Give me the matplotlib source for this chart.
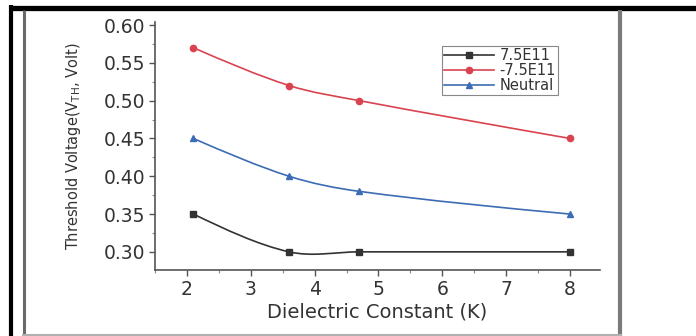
import matplotlib
matplotlib.use('Agg')
import matplotlib.pyplot as plt
import matplotlib.patches as patches
from matplotlib.lines import Line2D
from matplotlib.path import Path
from matplotlib.ticker import MultipleLocator, FormatStrFormatter

plt.rcParams['font.family'] = ['DejaVu Sans']

# Data: threshold voltage vs dielectric constant
k_values = [2.1, 3.6, 4.7, 8.0]
vth_pos = [0.35, 0.30, 0.30, 0.30]
vth_neg = [0.57, 0.52, 0.50, 0.45]
vth_neutral = [0.45, 0.40, 0.38, 0.35]
series_labels = ['7.5E11', '-7.5E11', 'Neutral']


def smooth_path(xs, ys):
	# Hermite curve through the points (as cubic Bezier segments)
	n = len(xs)
	slopes = []
	for i in range(n):
		if 0 < i < n - 1:
			slopes.append((ys[i + 1] - ys[i - 1]) / (xs[i + 1] - xs[i - 1]))
		else:
			slopes.append(None)
	sec0 = (ys[1] - ys[0]) / (xs[1] - xs[0])
	secn = (ys[-1] - ys[-2]) / (xs[-1] - xs[-2])
	slopes[0] = 1.5 * sec0 - 0.5 * slopes[1]
	slopes[-1] = 1.5 * secn - 0.5 * slopes[-2]
	verts = [(xs[0], ys[0])]
	codes = [Path.MOVETO]
	for i in range(n - 1):
		dx = (xs[i + 1] - xs[i]) / 3
		verts += [(xs[i] + dx, ys[i] + slopes[i] * dx),
				  (xs[i + 1] - dx, ys[i + 1] - slopes[i + 1] * dx),
				  (xs[i + 1], ys[i + 1])]
		codes += [Path.CURVE4] * 3
	return Path(verts, codes)


W, H = 696, 336
fig = plt.figure(figsize=(W / 100, H / 100), dpi=100)
fig.patch.set_facecolor('white')

ax = fig.add_axes([155 / W, 1 - 270 / H, 445 / W, 248 / H])

styles = [
	(vth_pos, '#333333', 's'),
	(vth_neg, '#d9434f', 'o'),
	(vth_neutral, '#3b6cb4', '^'),
]
handles = []
for (vals, col, mk), lab in zip(styles, series_labels):
	curve = patches.PathPatch(smooth_path(k_values, vals), facecolor='none',
							  edgecolor=col, linewidth=1.2, transform=ax.transData)
	ax.add_patch(curve)
	ax.plot(k_values, vals, linestyle='none', marker=mk, markersize=4.5, color=col)
	handles.append(Line2D([], [], color=col, marker=mk, markersize=4.5, linewidth=1.2))

ax.set_xlim(1.5, 8.47)
ax.set_ylim(0.276, 0.604)
ax.xaxis.set_major_locator(MultipleLocator(1))
ax.xaxis.set_minor_locator(MultipleLocator(0.5))
ax.yaxis.set_major_locator(MultipleLocator(0.05))
ax.yaxis.set_minor_locator(MultipleLocator(0.025))
ax.yaxis.set_major_formatter(FormatStrFormatter('%.2f'))

for side in ['top', 'right']:
	ax.spines[side].set_visible(False)
for side in ['left', 'bottom']:
	ax.spines[side].set_color('#555555')
	ax.spines[side].set_linewidth(1.2)
ax.tick_params(which='major', direction='out', length=4, width=1, color='#555555',
			   labelsize=13.5, labelcolor='#333333', pad=3)
ax.tick_params(which='minor', direction='out', length=2.5, width=0.8, color='#888888')

ax.set_xlabel('Dielectric Constant (K)', fontsize=14, color='#333333', labelpad=3)
ax.set_ylabel('Threshold Voltage(V$_{\\mathregular{TH}}$, Volt)', fontsize=10.5,
			  color='#333333', labelpad=15)

leg = ax.legend(handles, series_labels, loc='upper left', bbox_to_anchor=(0.645, 0.905),
				fontsize=10.5, fancybox=False, edgecolor='#888888', framealpha=1,
				handlelength=3.4, handletextpad=0.4, borderpad=0.15, labelspacing=0.0,
				borderaxespad=0)
for t in leg.get_texts():
	t.set_color('#333333')
leg.get_frame().set_linewidth(0.8)

# Outer frame lines around the figure
def fig_line(x0, y0, x1, y1, color, lw):
	fig.add_artist(Line2D([x0 / W, x1 / W], [1 - y0 / H, 1 - y1 / H], color=color,
						  linewidth=lw, solid_capstyle='butt'))

fig_line(9, 7.5, W, 7.5, 'black', 3.8)
fig_line(11, 5, 11, H, 'black', 3.0)
fig_line(24, 10, 24, H, '#6a6a6a', 2.2)
fig_line(620, 10, 620, H, '#7a7a7a', 3.0)
fig_line(22, 334.5, 622, 334.5, '#b0b0b0', 1.5)

fig.savefig('out.png', dpi=100)
